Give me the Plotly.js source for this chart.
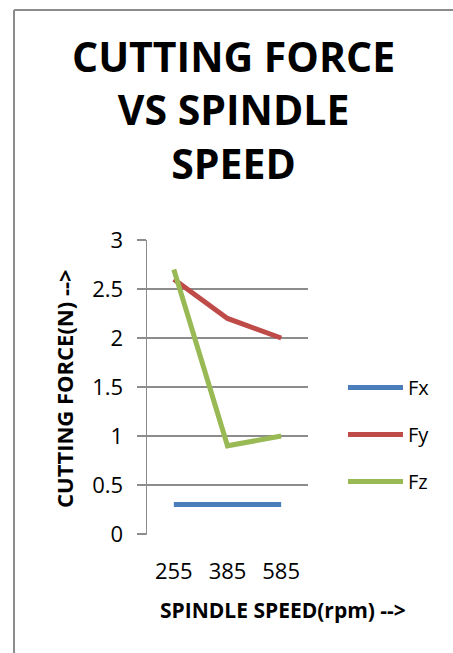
<!DOCTYPE html>
<html>
<head>
<meta charset="utf-8">
<script src="https://cdn.plot.ly/plotly-3.0.1.min.js"></script>
<style>
html,body{margin:0;padding:0;background:#fff;}
#chart{width:453px;height:653px;}
</style>
</head>
<body>
<div id="chart"></div>
<script>
var categories = ["255", "385", "585"];
var fx = [0.3, 0.3, 0.3];
var fy = [2.6, 2.2, 2.0];
var fz = [2.7, 0.9, 1.0];
var seriesNames = ["Fx", "Fy", "Fz"];
var yTicks = [0, 0.5, 1, 1.5, 2, 2.5, 3];
var titleLines = ["CUTTING FORCE", "VS SPINDLE", "SPEED"];
var yTitle = "CUTTING FORCE(N) -->";
var xTitle = "SPINDLE SPEED(rpm) -->";

var colors = ["#4A7EBB", "#BE4B48", "#98B954"];
var font = "Open Sans, Liberation Sans, sans-serif";

var data = [fx, fy, fz].map(function (vals, i) {
  return {
    x: categories, y: vals, type: "scatter", mode: "lines",
    name: seriesNames[i], legendgroup: "g" + i,
    line: {color: colors[i], width: 5},
    hoverinfo: "skip"
  };
});

var annotations = [
  {text: "<b>" + titleLines.join("<br>") + "</b>", xref: "paper", yref: "paper",
   x: (233 - 147) / 161, y: (653 - 26 - 119) / 294, yanchor: "top", xanchor: "center",
   showarrow: false, align: "center", font: {family: font, size: 41, color: "#000"}},
  {text: "<b>" + yTitle + "</b>", xref: "paper", yref: "paper",
   x: (64 - 147) / 161, y: (534 - 389) / 294, xanchor: "center", yanchor: "middle",
   textangle: -90, showarrow: false, font: {family: font, size: 22, color: "#000"}},
  {text: "<b>" + xTitle + "</b>", xref: "paper", yref: "paper",
   x: (283 - 147) / 161, y: -(610 - 534) / 294, xanchor: "center", yanchor: "middle",
   showarrow: false, font: {family: font, size: 21, color: "#000"}}
];

var layout = {
  width: 453, height: 653,
  margin: {l: 147, r: 145, t: 240, b: 119, pad: 0},
  paper_bgcolor: "#fff", plot_bgcolor: "#fff",
  showlegend: true,
  legend: {
    xref: "container", yref: "container",
    x: 343 / 453, y: 1 - 368 / 653, xanchor: "left", yanchor: "top",
    font: {family: font, size: 20, color: "#000"},
    itemwidth: 55,
    tracegroupgap: 18, traceorder: "grouped",
    bgcolor: "rgba(0,0,0,0)"
  },
  xaxis: {
    type: "category", range: [-0.5, 2.5],
    showgrid: false, zeroline: false, showline: false,
    ticks: "", tickfont: {family: font, size: 22, color: "#000"},
    ticklabelstandoff: 22, fixedrange: true
  },
  yaxis: {
    range: [0, 3], tickvals: yTicks, ticktext: yTicks.map(String),
    showgrid: true, gridcolor: "#8C8C8C", gridwidth: 1.5,
    zeroline: false, showline: true, linecolor: "#8C8C8C", linewidth: 1.5,
    ticks: "outside", ticklen: 9, tickcolor: "#8C8C8C", tickwidth: 1.5,
    tickfont: {family: font, size: 22, color: "#000"},
    ticklabelstandoff: 9, fixedrange: true
  },
  annotations: annotations,
  shapes: [
    {type: "line", xref: "paper", yref: "paper", x0: -(147 - 138) / 161, x1: 0,
     y0: 0, y1: 0, line: {color: "#8C8C8C", width: 1.5}},
    {type: "line", xref: "paper", yref: "paper", x0: -(147 - 14) / 161, x1: -(147 - 14) / 161,
     y0: -2, y1: (534 - 10) / 294, line: {color: "#8C8C8C", width: 2}},
    {type: "line", xref: "paper", yref: "paper", x0: -(147 - 14) / 161, x1: 3,
     y0: (534 - 10) / 294, y1: (534 - 10) / 294, line: {color: "#8C8C8C", width: 2}}
  ]
};

Plotly.newPlot("chart", data, layout, {displayModeBar: false, staticPlot: true});
</script>
</body>
</html>
